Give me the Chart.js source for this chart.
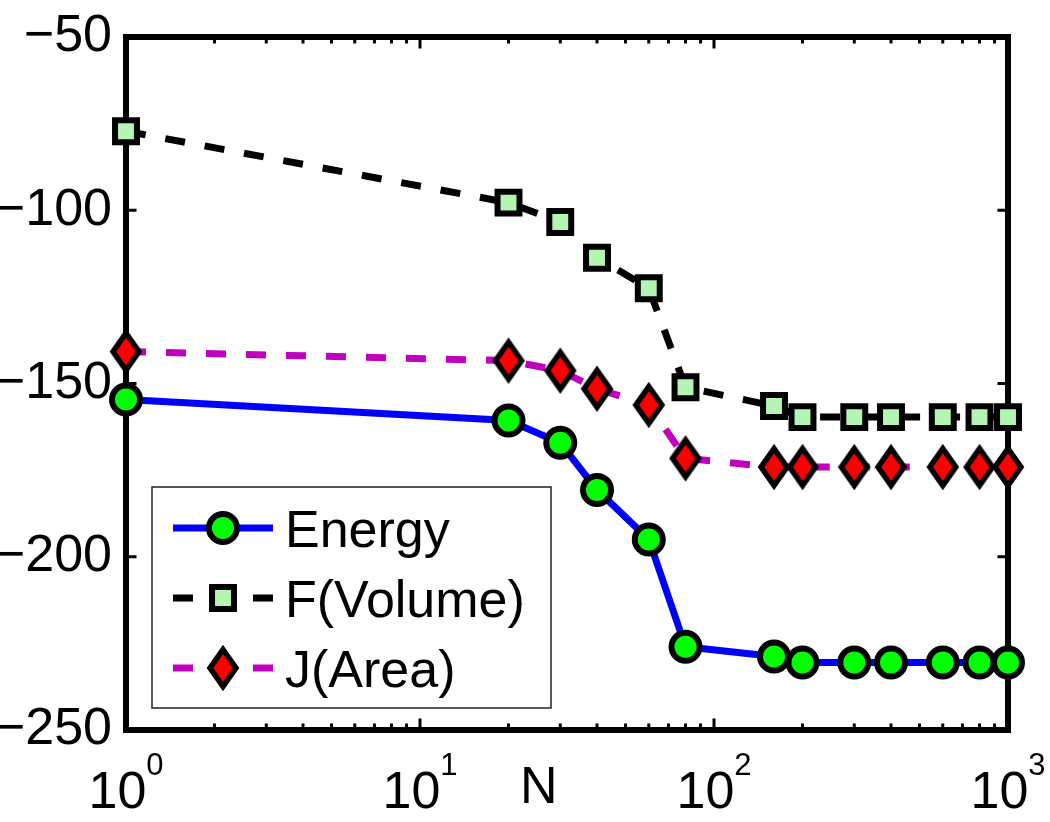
<!DOCTYPE html>
<html>
<head>
<meta charset="utf-8">
<script src="https://cdn.jsdelivr.net/npm/chart.js@4/dist/chart.umd.min.js"></script>
<style>
  html, body { margin: 0; padding: 0; background: #fff; }
  #chart { display: block; }
</style>
</head>
<body>
<canvas id="chart" width="1050" height="822"></canvas>
<script>
// ── Data ──────────────────────────────────────────────────────
const nValues = [1, 20, 30, 40, 60, 80, 160, 200, 300, 400, 600, 800, 1000];
const energy = [-154.6, -160.7, -167.1, -180.7, -195.0, -226.0, -228.8, -230.5, -230.5, -230.5, -230.5, -230.5, -230.5];
const volume = [-77.2, -97.8, -103.4, -113.7, -122.5, -151.1, -156.5, -159.7, -159.7, -159.7, -159.7, -159.7, -159.7];
const area = [-140.8, -143.4, -146.3, -151.5, -156.2, -171.6, -174.1, -174.1, -174.1, -174.1, -174.1, -174.1, -174.1];

const seriesLabels = ['Energy', 'F(Volume)', 'J(Area)'];
const xTickValues = [1, 10, 100, 1000];
const xTickExponents = ['0', '1', '2', '3'];
const yTickValues = [-250, -200, -150, -100, -50];
const xTitle = 'N';

const FONT = "'Liberation Sans', Arial, Helvetica, sans-serif";

// MATLAB-like tall diamond marker
function makeDiamond(fill) {
  const c = document.createElement('canvas');
  c.width = 36; c.height = 50;
  const g = c.getContext('2d');
  g.beginPath();
  g.moveTo(18, 6.5); g.lineTo(31, 25); g.lineTo(18, 43.5); g.lineTo(5, 25);
  g.closePath();
  g.fillStyle = fill; g.fill();
  g.lineWidth = 5.5; g.lineJoin = 'miter'; g.strokeStyle = '#000'; g.stroke();
  return c;
}
const diamond = makeDiamond('#ff0000');

// ── Box with inward ticks ─────────────────────────────────────
const framePlugin = {
  id: 'frame',
  beforeDatasetsDraw(chart) {
    const { ctx, chartArea: a, scales: { x, y } } = chart;
    ctx.save();
    ctx.strokeStyle = '#000';
    ctx.lineCap = 'square';
    ctx.lineWidth = 3;
    ctx.beginPath();
    xTickValues.forEach((d, i) => {
      const px = x.getPixelForValue(d);
      ctx.moveTo(px, a.bottom); ctx.lineTo(px, a.bottom - 10);
      ctx.moveTo(px, a.top); ctx.lineTo(px, a.top + 10);
      if (i < xTickValues.length - 1) {
        for (let k = 2; k <= 9; k++) {
          const mx = x.getPixelForValue(d * k);
          ctx.moveTo(mx, a.bottom); ctx.lineTo(mx, a.bottom - 5);
          ctx.moveTo(mx, a.top); ctx.lineTo(mx, a.top + 5);
        }
      }
    });
    yTickValues.forEach(v => {
      const py = y.getPixelForValue(v);
      ctx.moveTo(a.left, py); ctx.lineTo(a.left + 9, py);
      ctx.moveTo(a.right, py); ctx.lineTo(a.right - 9, py);
    });
    ctx.stroke();
    ctx.lineWidth = 6;
    ctx.strokeRect(a.left, a.top, a.right - a.left, a.bottom - a.top);

    // x tick labels 10^k
    ctx.fillStyle = '#000';
    ctx.textBaseline = 'alphabetic';
    ctx.textAlign = 'left';
    xTickValues.forEach((d, i) => {
      const px = x.getPixelForValue(d);
      ctx.font = '52px ' + FONT;
      const wBase = ctx.measureText('10').width;
      ctx.font = '31px ' + FONT;
      const wExp = ctx.measureText(xTickExponents[i]).width;
      const x0 = px - (wBase + wExp) / 2;
      ctx.font = '52px ' + FONT;
      ctx.fillText('10', x0, a.bottom + 78);
      ctx.font = '31px ' + FONT;
      ctx.fillText(xTickExponents[i], x0 + wBase, a.bottom + 45);
    });
    ctx.font = '52px ' + FONT;
    ctx.textAlign = 'center';
    ctx.fillText(xTitle, a.left + (a.right - a.left) * 0.468, a.bottom + 73);
    ctx.restore();
  }
};

// ── Legend drawn inside the axes ──────────────────────────────
function drawMarker(ctx, ds, cx, cy) {
  const st = ds.pointStyle;
  if (st instanceof HTMLCanvasElement) {
    ctx.drawImage(st, cx - st.width / 2, cy - st.height / 2);
    return;
  }
  ctx.beginPath();
  if (st === 'rect') {
    const h = ds.pointRadius * Math.SQRT1_2;
    ctx.rect(cx - h, cy - h, 2 * h, 2 * h);
  } else {
    ctx.arc(cx, cy, ds.pointRadius, 0, Math.PI * 2);
  }
  ctx.fillStyle = ds.pointBackgroundColor;
  ctx.fill();
  ctx.lineWidth = ds.pointBorderWidth;
  ctx.strokeStyle = ds.pointBorderColor;
  ctx.stroke();
}

const legendPlugin = {
  id: 'boxLegend',
  afterDatasetsDraw(chart) {
    const { ctx, chartArea: a } = chart;
    const bx = a.left + 26, by = a.top + 450, bw = 399, bh = 221;
    ctx.save();
    ctx.fillStyle = '#fff';
    ctx.fillRect(bx, by, bw, bh);
    ctx.lineWidth = 1.5;
    ctx.strokeStyle = '#222';
    ctx.strokeRect(bx, by, bw, bh);
    chart.data.datasets.forEach((ds, i) => {
      const cy = by + 41 + i * 70;
      ctx.beginPath();
      ctx.setLineDash(ds.borderDash || []);
      ctx.lineDashOffset = 0;
      ctx.lineWidth = ds.borderWidth;
      ctx.strokeStyle = ds.borderColor;
      ctx.lineCap = 'butt';
      ctx.moveTo(bx + 21, cy); ctx.lineTo(bx + 121, cy);
      ctx.stroke();
      ctx.setLineDash([]);
      drawMarker(ctx, ds, bx + 71, cy);
      ctx.fillStyle = '#000';
      ctx.font = '52px ' + FONT;
      ctx.textAlign = 'left';
      ctx.textBaseline = 'alphabetic';
      ctx.fillText(ds.label, bx + 133, cy + 19);
    });
    ctx.restore();
  }
};

const toPoints = vals => nValues.map((n, i) => ({ x: n, y: vals[i] }));

new Chart(document.getElementById('chart').getContext('2d'), {
  type: 'line',
  data: {
    datasets: [
      {
        label: seriesLabels[0],
        data: toPoints(energy),
        borderColor: '#0000ff',
        borderWidth: 7,
        pointStyle: 'circle',
        pointRadius: 14,
        pointBackgroundColor: '#00ff00',
        pointBorderColor: '#000',
        pointBorderWidth: 6,
        clip: false,
        order: 3
      },
      {
        label: seriesLabels[1],
        data: toPoints(volume),
        borderColor: '#000000',
        borderWidth: 7,
        borderDash: [20, 20],
        pointStyle: 'rect',
        pointRadius: 15.5,
        pointBackgroundColor: '#b4f5b4',
        pointBorderColor: '#000',
        pointBorderWidth: 6,
        clip: false,
        order: 2
      },
      {
        label: seriesLabels[2],
        data: toPoints(area),
        borderColor: '#bf00bf',
        borderWidth: 7,
        borderDash: [20, 20],
        pointStyle: diamond,
        pointRadius: 15,
        clip: false,
        order: 1
      }
    ]
  },
  options: {
    responsive: false,
    animation: false,
    devicePixelRatio: 1,
    layout: { padding: { top: 37, right: 42, left: 0, bottom: 0 } },
    plugins: { legend: { display: false }, tooltip: { enabled: false } },
    elements: { line: { tension: 0 } },
    scales: {
      x: {
        type: 'logarithmic',
        min: 1, max: 1000,
        grid: { display: false, drawTicks: false },
        border: { display: false },
        ticks: { display: false },
        afterFit: s => { s.height = 92; s.paddingLeft = 0; s.paddingRight = 0; }
      },
      y: {
        type: 'linear',
        min: -250, max: -50,
        grid: { display: false, drawTicks: false },
        border: { display: false },
        afterBuildTicks: s => { s.ticks = yTickValues.map(v => ({ value: v })); },
        ticks: {
          color: '#000',
          padding: 14,
          font: { size: 52, family: FONT, lineHeight: 1 },
          callback: v => String(v).replace('-', '\u2212')
        },
        afterFit: s => { s.width = 126; s.paddingTop = 0; s.paddingBottom = 0; }
      }
    }
  },
  plugins: [framePlugin, legendPlugin]
});
</script>
</body>
</html>
